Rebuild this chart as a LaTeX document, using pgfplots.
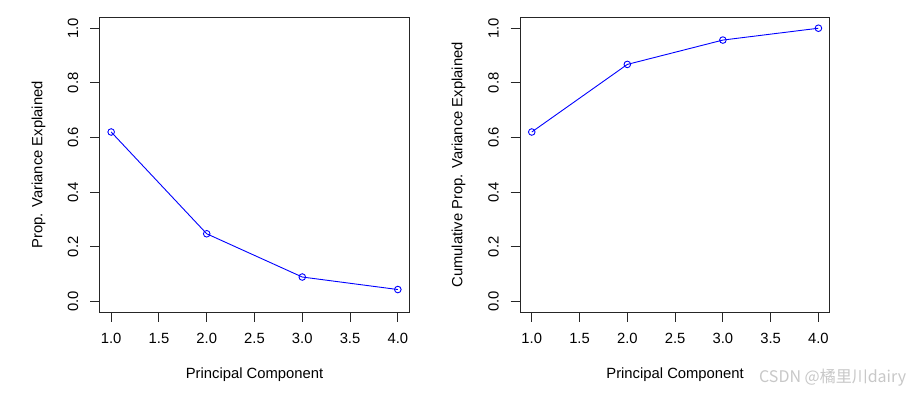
\documentclass[border=0pt]{standalone}
\usepackage{pgfplots}
\pgfplotsset{compat=1.18}
\usepackage{fontspec}
\setmainfont{Liberation Sans}
\newfontfamily\cjk{Noto Sans CJK SC}
\definecolor{wm}{RGB}{200,200,200}
\pgfplotsset{
  rstyle/.style={
    scale only axis,
    width=309.6pt, height=295pt,
    xmin=0.88, xmax=4.12, ymin=-0.04, ymax=1.04,
    xtick={1,1.5,2,2.5,3,3.5,4},
    ytick={0,0.2,0.4,0.6,0.8,1},
    tick pos=left,
    tick align=outside,
    major tick length=9.7pt,
    axis line style={line width=0.9pt, color=black!85},
    every tick/.style={line width=0.9pt, color=black!85},
    /pgf/number format/assume math mode=true,
    /pgf/number format/fixed,
    /pgf/number format/fixed zerofill,
    /pgf/number format/precision=1,
    font=\fontsize{14.8}{17.8}\selectfont,
    xticklabel style={anchor=base},
    yticklabel style={rotate=90, anchor=base},
    xticklabel shift=22pt,
    yticklabel shift=12pt,
    xlabel style={at={(axis description cs:0.5,-0.2261)}, anchor=base},
    ylabel style={anchor=base},
  },
}
\begin{document}
\begin{tikzpicture}[x=1pt,y=1pt]
\path[use as bounding box, fill=white] (0,0) rectangle (919,393);
\begin{axis}[rstyle, at={(99.7pt,80.7pt)}, anchor=south west,
  xlabel={Principal Component}, ylabel={Prop. Variance Explained},
  ylabel style={at={(axis description cs:-0.1854,0.5)}}]
\addplot[color=blue, line width=0.9pt, mark=o, mark size=3.3pt,
  mark options={draw=blue, line width=0.9pt}] coordinates {
(1,0.6200604) (2,0.2474413) (3,0.0891408) (4,0.0433575)};
\end{axis}
\begin{axis}[rstyle, at={(520.3pt,80.7pt)}, anchor=south west,
  xlabel={Principal Component}, ylabel={Cumulative Prop. Variance Explained},
  ylabel style={at={(axis description cs:-0.1873,0.5)}}]
\addplot[color=blue, line width=0.9pt, mark=o, mark size=3.3pt,
  mark options={draw=blue, line width=0.9pt}] coordinates {
(1,0.6200604) (2,0.8675017) (3,0.9566425) (4,1.0)};
\end{axis}
\node[anchor=west, text=wm, font=\cjk\fontsize{16}{19}\selectfont, inner sep=0pt] at (759,15) {CSDN @橘里川dairy};
\end{tikzpicture}
\end{document}
